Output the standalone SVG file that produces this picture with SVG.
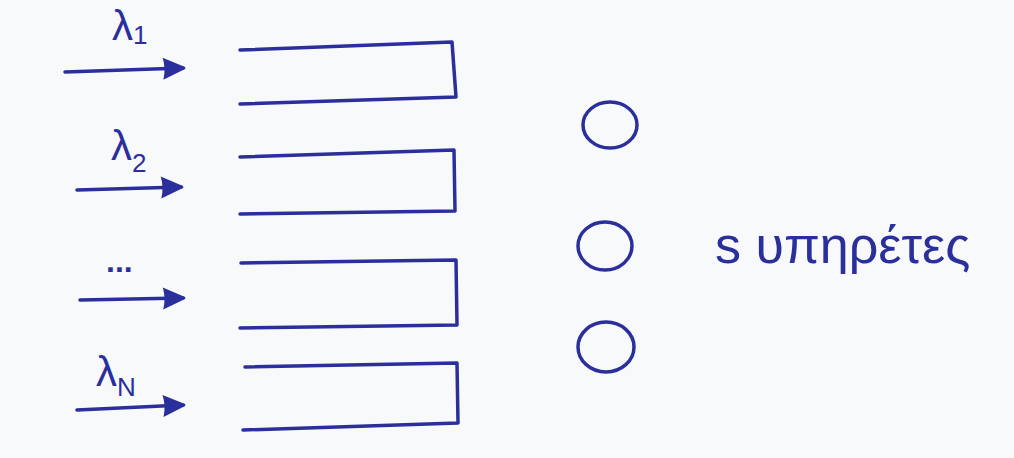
<svg xmlns="http://www.w3.org/2000/svg" width="1014" height="458" viewBox="0 0 1014 458">
  <style>
    .ink { fill: none; stroke: #2b2f9c; stroke-width: 3.5; stroke-linecap: round; stroke-linejoin: round; }
    .lbl { font-family: "Liberation Sans", "DejaVu Sans", sans-serif; fill: #2b2f9c; }
    .lam { font-size: 42px; }
    .sub { font-size: 26px; }
  </style>
  <defs>
    <marker id="arrow" markerUnits="userSpaceOnUse" markerWidth="26" markerHeight="26" refX="21" refY="13" orient="auto">
      <path d="M1,2 L23,12 Q24,13 23,14 L1,24 Q4,13 1,2 Z" fill="#2b2f9c"/>
    </marker>
  </defs>
  <rect width="1014" height="458" fill="#f8f9fb"/>

  <g id="queue1"><path class="ink" d="M240,50 L452,42 L456,97 L240,104"/></g>
  <g id="queue2"><path class="ink" d="M240,157 L454,150 L455,211 L240,214"/></g>
  <g id="queue3"><path class="ink" d="M241,263 L456,260 L457,325 L240,328"/></g>
  <g id="queue4"><path class="ink" d="M245,367 L457,363 L458,423 L243,430"/></g>

  <g id="server1"><ellipse class="ink" cx="610" cy="125" rx="27" ry="23"/></g>
  <g id="server2"><ellipse class="ink" cx="605" cy="246" rx="27" ry="24"/></g>
  <g id="server3"><ellipse class="ink" cx="606" cy="347" rx="28" ry="25"/></g>

  <g id="connectors">
    <path class="ink" d="M65,72 L183,68" marker-end="url(#arrow)"/>
    <path class="ink" d="M77,190 L181,187" marker-end="url(#arrow)"/>
    <path class="ink" d="M80,300 L183,298" marker-end="url(#arrow)"/>
    <path class="ink" d="M77,410 L183,405" marker-end="url(#arrow)"/>
  </g>

  <g id="labels">
    <text class="lbl lam" x="112" y="40">λ<tspan class="sub" dy="4">1</tspan></text>
    <text class="lbl lam" x="111" y="160">λ<tspan class="sub" dy="12">2</tspan></text>
    <text class="lbl" x="106" y="272" font-size="32" font-weight="bold">...</text>
    <text class="lbl lam" x="96" y="386">λ<tspan class="sub" dy="10">N</tspan></text>
    <text class="lbl" x="715" y="263" font-size="52">s υπηρέτες</text>
  </g>
</svg>
